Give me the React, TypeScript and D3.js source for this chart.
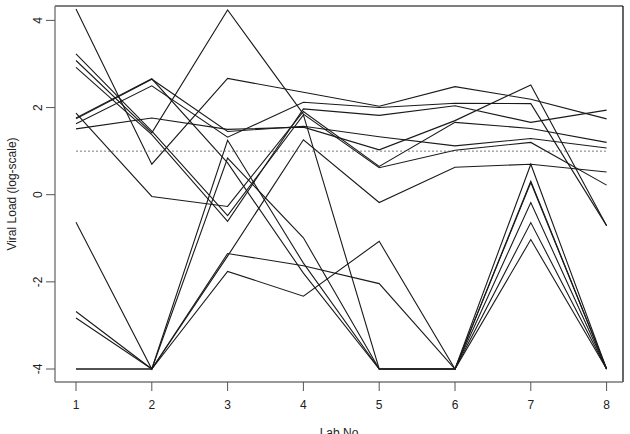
import * as d3 from 'd3';

// lab numbers on the x axis
const labs = [1, 2, 3, 4, 5, 6, 7, 8];
const yTicks = [-4, -2, 0, 2, 4];
const threshold = 1;

// log viral load per patient, one value per lab
const patientA = [4.26, 0.7, 2.67, 2.35, 2.03, 2.48, 2.19, 1.74];
const patientB = [3.08, 1.42, 4.24, 1.85, 0.62, 1.02, 1.2, 0.22];
const patientC = [3.23, 1.46, -0.48, 1.83, -4, -4, 0.31, -4];
const patientD = [2.92, 1.38, -0.61, 1.97, 1.82, 2.04, 1.66, 1.94];
const patientE = [1.87, -0.04, -0.27, 1.91, 0.65, 1.66, 1.52, 1.2];
const patientF = [1.74, 2.65, 1.45, 1.57, 1.33, 1.12, 1.29, 1.07];
const patientG = [1.76, 2.66, 0.73, -1.8, -4, -4, 0.28, -4];
const patientH = [1.63, 2.5, 1.32, 2.12, 2.0, 2.1, 2.09, -0.71];
const patientI = [1.51, 1.76, 1.5, 1.55, 1.03, 1.7, 2.52, -0.71];
const patientJ = [-0.63, -4, 1.25, -1.57, -4, -4, -0.18, -4];
const patientK = [-2.68, -4, 0.84, -0.99, -4, -4, -0.64, -4];
const patientL = [-2.83, -4, -1.35, -1.63, -2.04, -4, -1.03, -4];
const patientM = [-4, -4, -1.41, 1.26, -0.18, 0.63, 0.7, 0.52];
const patientN = [-4, -4, -1.76, -2.33, -1.07, -4, 0.7, -4];

const patients = [
  patientA, patientB, patientC, patientD, patientE, patientF, patientG,
  patientH, patientI, patientJ, patientK, patientL, patientM, patientN
];

export default function App() {
  const W = 630;
  const H = 434;
  const box = { left: 55, right: 623, top: 6, bottom: 382 };

  const x = d3.scaleLinear().domain([1, 8]).range([76, 606.6]);
  const y = d3.scaleLinear().domain([-4, 4]).range([369, 20.4]);

  const line = d3.line<number>()
    .x((_, i) => x(labs[i]))
    .y(d => y(d));

  const font = '"Liberation Sans", Arial, Helvetica, sans-serif';

  return (
    <svg width={W} height={H} style={{ position: 'absolute', left: 0, top: 0, background: '#fff' }}
      fontFamily={font}>
      {/* patient trajectories */}
      <g fill="none" stroke="#1a1a1a" strokeWidth={1.1}>
        {patients.map((p, i) => <path key={i} d={line(p) || ''} />)}
      </g>

      {/* detection threshold */}
      <line x1={x(1)} x2={x(8)} y1={y(threshold)} y2={y(threshold)}
        stroke="#555" strokeWidth={0.8} strokeDasharray="2,2" />

      {/* frame */}
      <line x1={box.left} x2={box.right} y1={box.top} y2={box.top} stroke="#000" strokeWidth={1.2} />
      <line x1={box.right} x2={box.right} y1={box.top} y2={box.bottom} stroke="#000" strokeWidth={1.2} />
      <line x1={box.left} x2={box.left} y1={box.top} y2={box.bottom} stroke="#777" strokeWidth={1.4} />
      <line x1={box.left} x2={box.right} y1={box.bottom} y2={box.bottom} stroke="#777" strokeWidth={1.4} />

      {/* x axis */}
      {labs.map(l => (
        <g key={l} transform={`translate(${x(l)},0)`}>
          <line y1={box.bottom} y2={box.bottom + 9} stroke="#555" strokeWidth={1} />
          <text y={409} textAnchor="middle" fontSize={12} fill="#222">{l}</text>
        </g>
      ))}
      <text x={(box.left + box.right) / 2} y={437} textAnchor="middle" fontSize={12} fill="#222">Lab No</text>

      {/* y axis */}
      {yTicks.map(t => (
        <g key={t} transform={`translate(0,${y(t)})`}>
          <line x1={box.left} x2={box.left - 9} stroke="#555" strokeWidth={1} />
          <text transform={`translate(42,0) rotate(-90)`} textAnchor="middle" fontSize={12} fill="#222">{t}</text>
        </g>
      ))}
      <text transform={`translate(16,${(box.top + box.bottom) / 2}) rotate(-90)`} textAnchor="middle"
        fontSize={12} fill="#222">Viral Load (log-scale)</text>
    </svg>
  );
}
